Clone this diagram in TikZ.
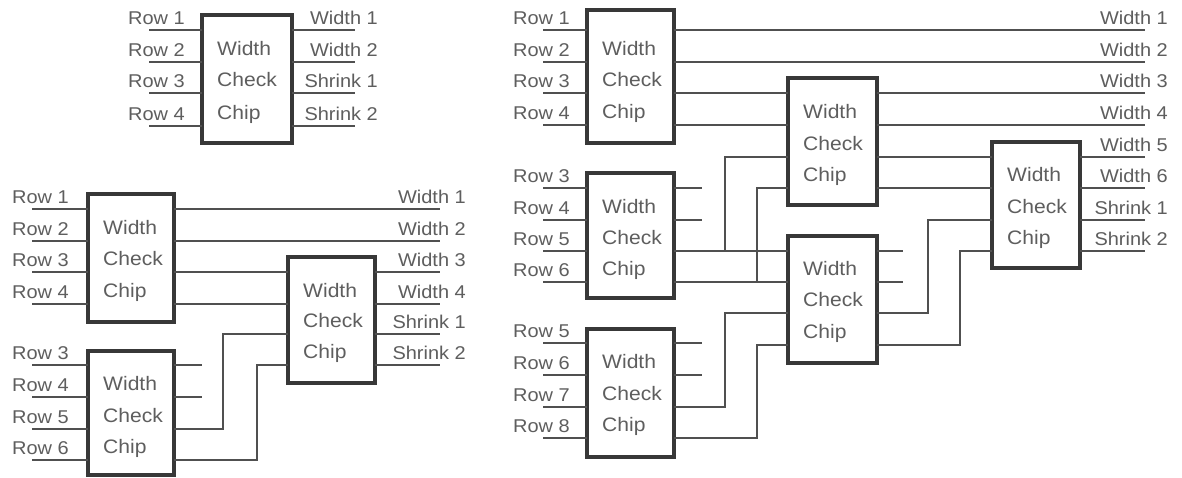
\documentclass[tikz,border=0pt]{standalone}
\usepackage{fontspec}
\usetikzlibrary{fit}
\newfontfamily\diafont{Liberation Sans}[FakeStretch=1.08]
\definecolor{wirec}{HTML}{505050}
\definecolor{boxc}{HTML}{383838}
\definecolor{textc}{HTML}{5E5E5E}
\tikzset{
  wire/.style={draw=wirec, line width=1.8pt},
  chip/.style={draw=boxc, line width=3.6pt, inner sep=0pt, rectangle},
  lbl/.style={text=textc, inner sep=0pt, font=\diafont\fontsize{18.5}{20}\selectfont},
  boxtxt/.style={text=textc, inner sep=0pt, anchor=base west, font=\diafont\fontsize{19.5}{21}\selectfont},
}
% name, left, top, right, bottom, pin1..pin4
\newcommand\mkchip[9]{%
  \node[chip, fit={(#2,#3) (#4,#5)}] (#1) {};
  \coordinate (#1-i1) at (#2,#6); \coordinate (#1-o1) at (#4,#6);
  \coordinate (#1-i2) at (#2,#7); \coordinate (#1-o2) at (#4,#7);
  \coordinate (#1-i3) at (#2,#8); \coordinate (#1-o3) at (#4,#8);
  \coordinate (#1-i4) at (#2,#9); \coordinate (#1-o4) at (#4,#9);
  \node[boxtxt] (#1-t1) at (#2+15,#7-7) {Width};
  \node[boxtxt] (#1-t2) at (#2+15,#8-7) {Check};
  \node[boxtxt] (#1-t3) at (#2+15,#9-7) {Chip};
}
% chip, pin, wire length, label offset, text
\newcommand\inwire[5]{%
  \coordinate (#1-s#2) at ([xshift=-#3pt]#1-i#2);
  \draw[wire] (#1-s#2) -- (#1-i#2);
  \node[lbl, anchor=base west] (#1-l#2) at ([xshift=-#4pt,yshift=6pt]#1-i#2) {#5};
}
\newcommand\outwire[5]{%
  \coordinate (#1-e#2) at ([xshift=#3pt]#1-o#2);
  \draw[wire] (#1-o#2) -- (#1-e#2);
  \node[lbl, anchor=base east] (#1-r#2) at ([xshift=#4pt,yshift=6pt]#1-e#2) {#5};
}
\newcommand\stub[3]{%
  \coordinate (#1-e#2) at ([xshift=#3pt]#1-o#2);
  \draw[wire] (#1-o#2) -- (#1-e#2);
}
\begin{document}
\begin{tikzpicture}[x=1pt,y=-1pt]
\useasboundingbox (0,0) rectangle (1182,477);
\fill[white] (0,0) rectangle (1182,477);

% ---------- top-left single chip ----------
\mkchip{t}{202}{15}{292}{143}{30}{62}{93}{126}
\inwire{t}{1}{53}{74}{Row 1}
\inwire{t}{2}{53}{74}{Row 2}
\inwire{t}{3}{53}{74}{Row 3}
\inwire{t}{4}{53}{74}{Row 4}
\outwire{t}{1}{63}{23}{Width 1}
\outwire{t}{2}{63}{23}{Width 2}
\outwire{t}{3}{63}{23}{Shrink 1}
\outwire{t}{4}{63}{23}{Shrink 2}

% ---------- bottom-left three chips ----------
\mkchip{a}{88}{194}{174}{322}{209}{241}{272}{304}
\mkchip{b}{88}{351}{174}{475}{365}{397}{429}{460}
\mkchip{c}{288}{257}{375}{383}{272}{304}{334}{365}
\inwire{a}{1}{56}{76}{Row 1}
\inwire{a}{2}{56}{76}{Row 2}
\inwire{a}{3}{56}{76}{Row 3}
\inwire{a}{4}{56}{76}{Row 4}
\inwire{b}{1}{56}{76}{Row 3}
\inwire{b}{2}{56}{76}{Row 4}
\inwire{b}{3}{56}{76}{Row 5}
\inwire{b}{4}{56}{76}{Row 6}
\outwire{a}{1}{266}{26}{Width 1}
\outwire{a}{2}{266}{26}{Width 2}
\draw[wire] (a-o3) -- (c-i1);
\draw[wire] (a-o4) -- (c-i2);
\stub{b}{1}{28}
\stub{b}{2}{28}
\draw[wire] (b-o3) -| ([xshift=-65pt]c-i3) -- (c-i3);
\draw[wire] (b-o4) -| ([xshift=-31pt]c-i4) -- (c-i4);
\outwire{c}{1}{65}{26}{Width 3}
\outwire{c}{2}{65}{26}{Width 4}
\outwire{c}{3}{65}{26}{Shrink 1}
\outwire{c}{4}{65}{26}{Shrink 2}

% ---------- right network ----------
\mkchip{d1}{587}{10}{674}{143}{30}{62}{93}{125}
\mkchip{d2}{587}{173}{674}{298}{188}{220}{251}{282}
\mkchip{d3}{587}{329}{674}{457}{343}{375}{407}{438}
\mkchip{e1}{788}{78}{877}{205}{93}{125}{157}{188}
\mkchip{e2}{788}{236}{877}{363}{251}{282}{313}{345}
\mkchip{f}{992}{142}{1080}{268}{157}{188}{220}{251}
\inwire{d1}{1}{44}{74}{Row 1}
\inwire{d1}{2}{44}{74}{Row 2}
\inwire{d1}{3}{44}{74}{Row 3}
\inwire{d1}{4}{44}{74}{Row 4}
\inwire{d2}{1}{44}{74}{Row 3}
\inwire{d2}{2}{44}{74}{Row 4}
\inwire{d2}{3}{44}{74}{Row 5}
\inwire{d2}{4}{44}{74}{Row 6}
\inwire{d3}{1}{44}{74}{Row 5}
\inwire{d3}{2}{44}{74}{Row 6}
\inwire{d3}{3}{44}{74}{Row 7}
\inwire{d3}{4}{44}{74}{Row 8}
\outwire{d1}{1}{471}{23}{Width 1}
\outwire{d1}{2}{471}{23}{Width 2}
\draw[wire] (d1-o3) -- (e1-i1);
\draw[wire] (d1-o4) -- (e1-i2);
\outwire{e1}{1}{268}{23}{Width 3}
\outwire{e1}{2}{268}{23}{Width 4}
\draw[wire] (e1-o3) -- (f-i1);
\draw[wire] (e1-o4) -- (f-i2);
\stub{d2}{1}{28}
\stub{d2}{2}{28}
\draw[wire] (d2-o3) -- (e2-i1);
\draw[wire] (d2-o4) -- (e2-i2);
\coordinate (j1) at ([xshift=-63pt]e2-i1);
\coordinate (j2) at ([xshift=-31pt]e2-i2);
\draw[wire] (j1) |- (e1-i3);
\draw[wire] (j2) |- (e1-i4);
\stub{d3}{1}{28}
\stub{d3}{2}{28}
\draw[wire] (d3-o3) -| ([xshift=-63pt]e2-i3) -- (e2-i3);
\draw[wire] (d3-o4) -| ([xshift=-31pt]e2-i4) -- (e2-i4);
\stub{e2}{1}{26}
\stub{e2}{2}{26}
\draw[wire] (e2-o3) -| ([xshift=-64pt]f-i3) -- (f-i3);
\draw[wire] (e2-o4) -| ([xshift=-32pt]f-i4) -- (f-i4);
\outwire{f}{1}{65}{23}{Width 5}
\outwire{f}{2}{65}{23}{Width 6}
\outwire{f}{3}{65}{23}{Shrink 1}
\outwire{f}{4}{65}{23}{Shrink 2}
\end{tikzpicture}
\end{document}
